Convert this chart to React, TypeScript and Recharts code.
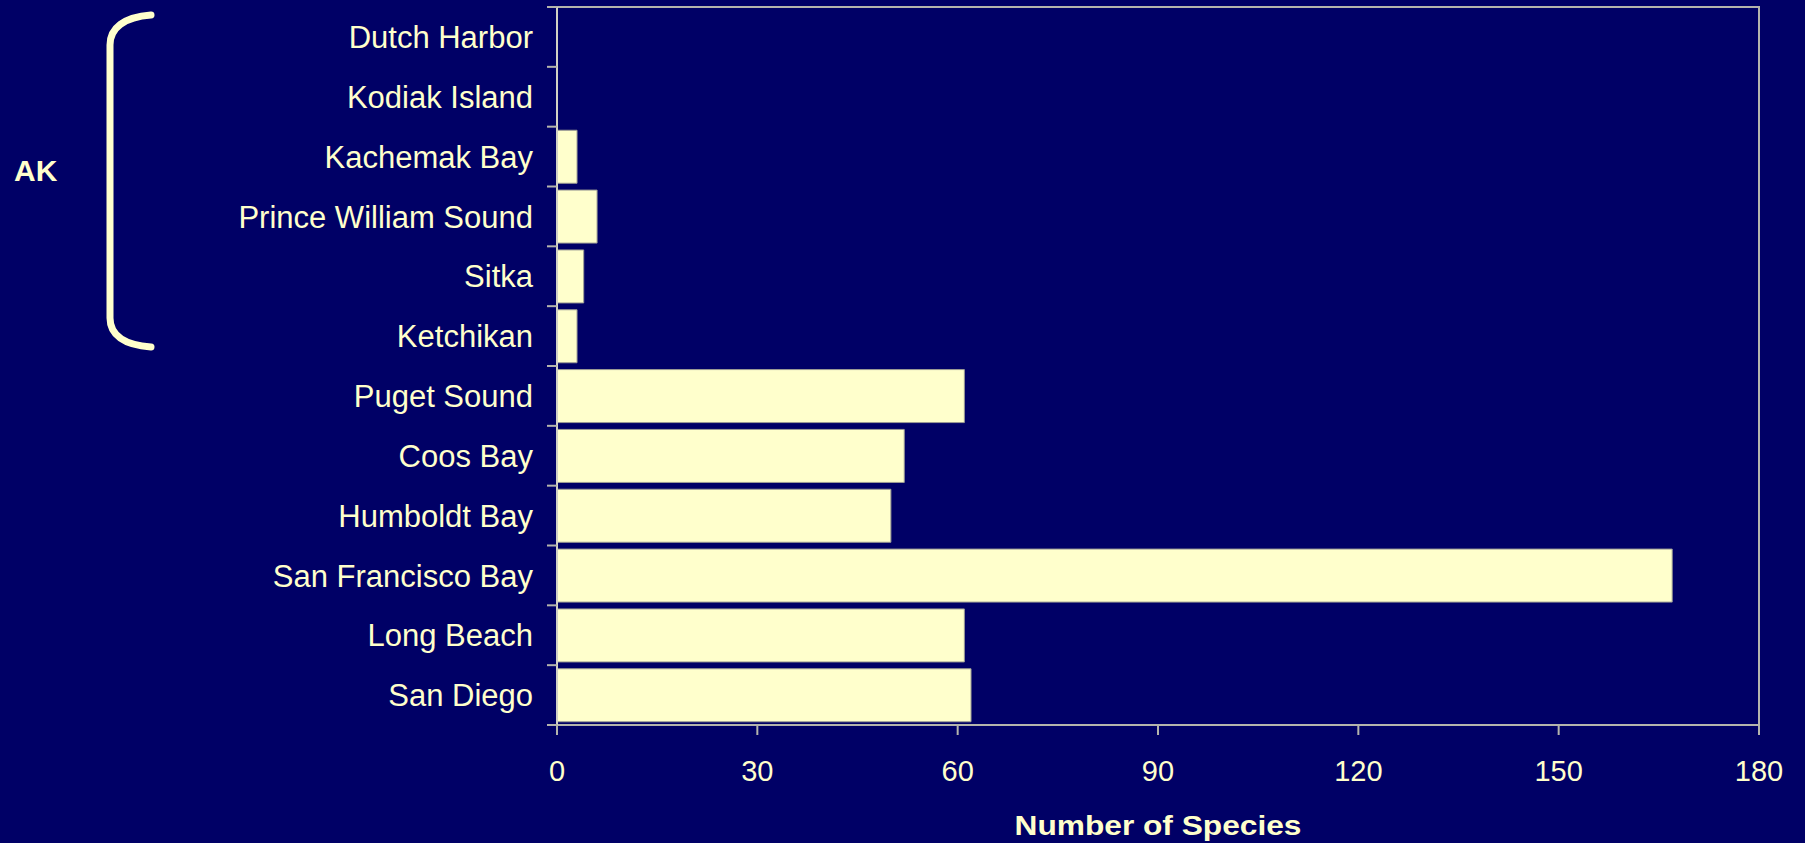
import { Bar, BarChart, ReferenceArea, XAxis, YAxis } from "recharts";

const SITES = [
  "Dutch Harbor",
  "Kodiak Island",
  "Kachemak Bay",
  "Prince William Sound",
  "Sitka",
  "Ketchikan",
  "Puget Sound",
  "Coos Bay",
  "Humboldt Bay",
  "San Francisco Bay",
  "Long Beach",
  "San Diego",
];

const SPECIES_COUNTS = [0, 0, 3, 6, 4, 3, 61, 52, 50, 167, 61, 62];

const X_TICKS = [0, 30, 60, 90, 120, 150, 180];

const WIDTH = 1805;
const HEIGHT = 843;
const MARGIN = { top: 7, right: 46, bottom: 0, left: 0 };
const Y_AXIS_WIDTH = 557;
const X_AXIS_HEIGHT = 118;

const BG = "#000066";
const INK = "#FFFFCC";
const LINE = "#B4B4AC";
const FONT = "'Liberation Sans', Arial, sans-serif";

const PLOT_HEIGHT = HEIGHT - MARGIN.top - MARGIN.bottom - X_AXIS_HEIGHT;
const BAND = PLOT_HEIGHT / SITES.length;
const Y_TICK_SIZE = 10;
const Y_TICK_MARGIN = 14;

const data = SITES.map((name, i) => ({ name, species: SPECIES_COUNTS[i] }));

// site label plus tick marks on the band edges instead of the band centre
function SiteTick(props: any) {
  const { x, y, payload, index } = props;
  const x1 = x + Y_TICK_MARGIN;
  const x2 = x1 + Y_TICK_SIZE;
  const top = y - BAND / 2;
  return (
    <g>
      <line x1={x1} x2={x2} y1={top} y2={top} stroke={LINE} strokeWidth={2} />
      {index === SITES.length - 1 && (
        <line x1={x1} x2={x2} y1={top + BAND} y2={top + BAND} stroke={LINE} strokeWidth={2} />
      )}
      <text
        x={x}
        y={y}
        dy="0.36em"
        textAnchor="end"
        fill={INK}
        fontSize={31}
        fontFamily={FONT}
      >
        {payload.value}
      </text>
    </g>
  );
}

function AxisTitle(props: any) {
  const { viewBox } = props;
  return (
    <text
      x={viewBox.x + viewBox.width / 2}
      y={viewBox.y + viewBox.height - 8}
      textAnchor="middle"
      fill={INK}
      fontSize={27}
      fontWeight="bold"
      fontFamily={FONT}
      textLength={287}
      lengthAdjust="spacingAndGlyphs"
    >
      Number of Species
    </text>
  );
}

export default function App() {
  return (
    <div
      style={{
        position: "absolute",
        left: 0,
        top: 0,
        width: WIDTH,
        height: HEIGHT,
        background: BG,
        fontFamily: FONT,
      }}
    >
      <BarChart
        width={WIDTH}
        height={HEIGHT}
        data={data}
        layout="vertical"
        margin={MARGIN}
        barCategoryGap="6%"
      >
        <XAxis
          type="number"
          domain={[0, 180]}
          ticks={X_TICKS}
          height={X_AXIS_HEIGHT}
          tickSize={10}
          tickMargin={25}
          axisLine={{ stroke: LINE, strokeWidth: 2 }}
          tickLine={{ stroke: LINE, strokeWidth: 2 }}
          tick={{ fill: INK, fontSize: 29, fontFamily: FONT }}
          label={<AxisTitle />}
        />
        <YAxis
          type="category"
          dataKey="name"
          width={Y_AXIS_WIDTH}
          tickSize={Y_TICK_SIZE}
          tickMargin={Y_TICK_MARGIN}
          tickLine={false}
          axisLine={{ stroke: "#D0D0C4", strokeWidth: 2 }}
          tick={<SiteTick />}
          interval={0}
        />
        <ReferenceArea
          x1={0}
          x2={180}
          fill="none"
          stroke={LINE}
          strokeWidth={2}
          ifOverflow="visible"
        />
        <Bar
          dataKey="species"
          fill={INK}
          stroke="#9C9C94"
          strokeWidth={1}
          isAnimationActive={false}
        />
      </BarChart>

      {/* Alaska group marker */}
      <svg
        width={200}
        height={380}
        style={{ position: "absolute", left: 0, top: 0, pointerEvents: "none" }}
      >
        <text x={14} y={181} fill={INK} fontSize={30} fontWeight="bold" fontFamily={FONT}>
          AK
        </text>
        <path
          d="M 151 15 C 124 17, 110 28, 110 45 L 110 318 C 110 335, 124 345, 151 347"
          fill="none"
          stroke={INK}
          strokeWidth={7}
          strokeLinecap="round"
        />
      </svg>
    </div>
  );
}
